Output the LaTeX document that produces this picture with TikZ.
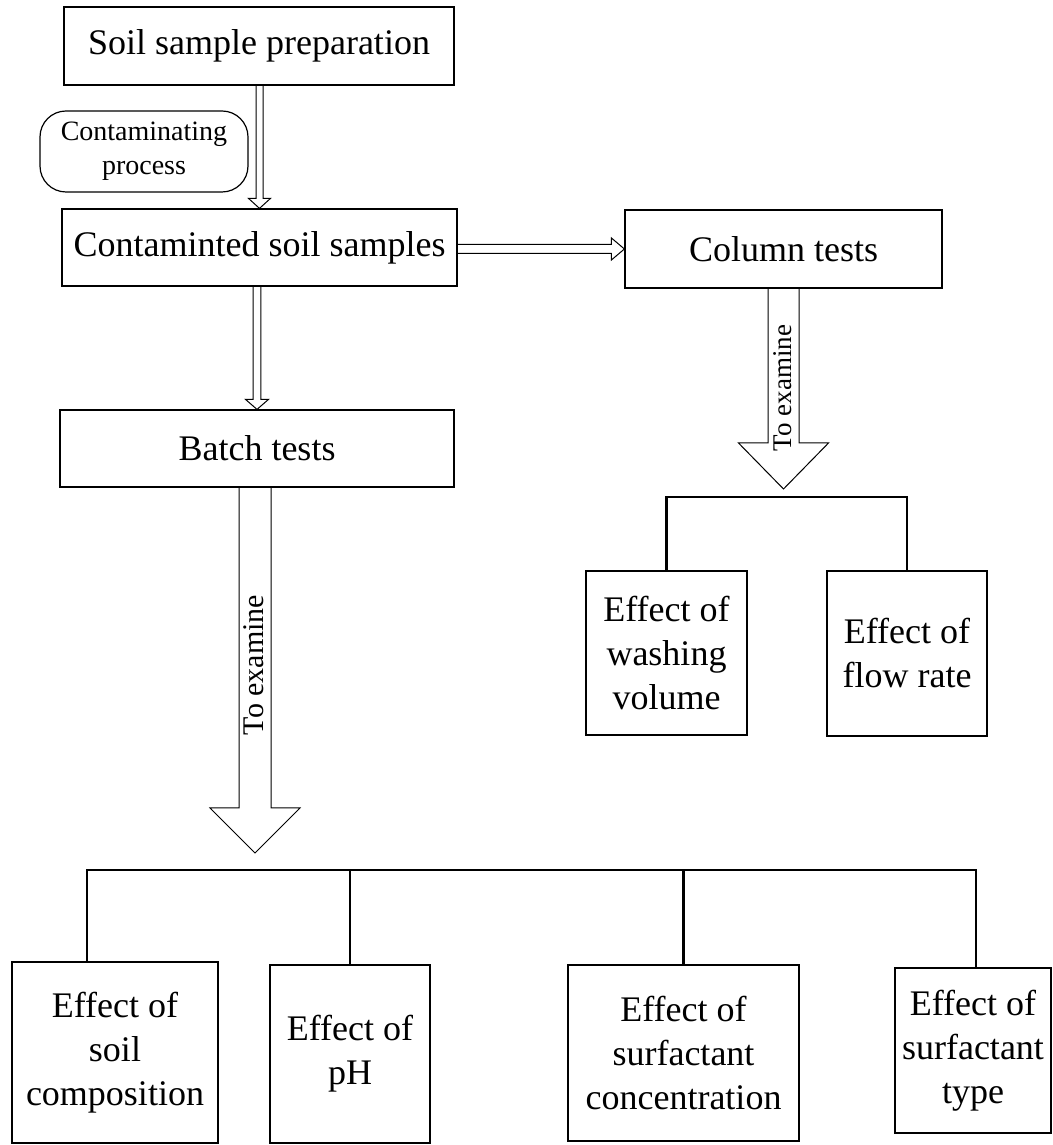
\documentclass[tikz,border=0pt]{standalone}
\usepackage{fontspec}
\setmainfont{Liberation Serif}
\usetikzlibrary{calc}
\newcommand\blockdown[5]{%
 \draw[hollow] ($(#1)+(-#3,0)$) -- ($(#2)+(-#3,#5)$) -- ($(#2)+(-#4,#5)$) -- (#2)
   -- ($(#2)+(#4,#5)$) -- ($(#2)+(#3,#5)$) -- ($(#1)+(#3,0)$);}
\newcommand\blockright[5]{%
 \draw[hollow] ($(#1)+(0,#3)$) -- ($(#2)+(-#5,#3)$) -- ($(#2)+(-#5,#4)$) -- (#2)
   -- ($(#2)+(-#5,-#4)$) -- ($(#2)+(-#5,-#3)$) -- ($(#1)+(0,-#3)$);}
\begin{document}
\begin{tikzpicture}[x=1pt,y=1pt,
  box/.style={draw,line width=1.2pt,inner sep=0pt,align=center,
    font=\fontsize{36}{44}\selectfont},
  rbox/.style={draw,line width=1.2pt,inner sep=0pt,align=center,rounded corners=26pt,
    font=\fontsize{28}{34}\selectfont},
  hollow/.style={draw,line width=1pt,line join=miter},
  bus/.style={draw,line width=2.6pt},
  lbl/.style={rotate=90,inner sep=0pt}]
\useasboundingbox (0,0) rectangle (1052,1145);
% boxes
\node[box,minimum width=390pt,minimum height=78pt] (prep) at (259,1099) {Soil sample preparation};
\node[rbox,minimum width=208pt,minimum height=81pt] (cproc) at (144,993.5) {Contaminating\\process};
\node[box,minimum width=395pt,minimum height=77pt] (contam) at (259.5,897.5) {Contaminted soil samples};
\node[box,minimum width=317pt,minimum height=78pt] (column) at (783.5,896) {Column tests};
\node[box,minimum width=394pt,minimum height=77pt] (batch) at (257,696.5) {Batch tests};
\node[box,minimum width=161pt,minimum height=164pt] (wash) at (666.5,492) {Effect of\\washing\\volume};
\node[box,minimum width=160pt,minimum height=165pt] (flow) at (907,491.5) {Effect of\\flow rate};
\node[box,minimum width=206pt,minimum height=181pt] (soilc) at (115,92.5) {Effect of\\soil\\composition};
\node[box,minimum width=160pt,minimum height=178pt] (ph) at (350,91) {Effect of\\pH};
\node[box,minimum width=231pt,minimum height=176pt] (sconc) at (683.5,92) {Effect of\\surfactant\\concentration};
\node[box,minimum width=156pt,minimum height=165pt] (stype) at (973,94.5) {Effect of\\surfactant\\type};
% helper coordinates
\coordinate (a1s) at (prep.south -| contam.north);
\coordinate (a2s) at (contam.south -| batch.north);
\coordinate (a3s) at (contam.east |- column.west);
\coordinate (ctip) at (783.5,656);
\coordinate (btip) at (255,292);
\coordinate (a4s) at (column.south -| ctip);
\coordinate (a5s) at (batch.south -| btip);
\coordinate (cbus) at (783.5,648);
\coordinate (bbus) at (255,275);
\coordinate (x87) at (87,0);
\coordinate (x976) at (976,0);
% hollow arrows
\blockdown{a1s}{contam.north}{3.5}{11}{10}
\blockdown{a2s}{batch.north}{3.8}{11.5}{10}
\blockright{a3s}{column.west}{4.5}{11}{13}
\blockdown{a4s}{ctip}{15.5}{45}{46}
\blockdown{a5s}{btip}{16}{45}{45}
% labels on arrows
\node[lbl,font=\fontsize{27}{30}\selectfont] (lc) at (783,757) {To examine};
\node[lbl,font=\fontsize{30}{33}\selectfont] (lb) at (254,480) {To examine};
% brackets
\draw[bus] (wash.north) -- (wash.north |- cbus) -- (flow.north |- cbus) -- (flow.north);
\draw[bus] (soilc.north -| x87) -- (x87 |- bbus) -- (x976 |- bbus) -- (stype.north -| x976);
\draw[bus] (ph.north) -- (ph.north |- bbus);
\draw[bus] (sconc.north) -- (sconc.north |- bbus);
\end{tikzpicture}
\end{document}
